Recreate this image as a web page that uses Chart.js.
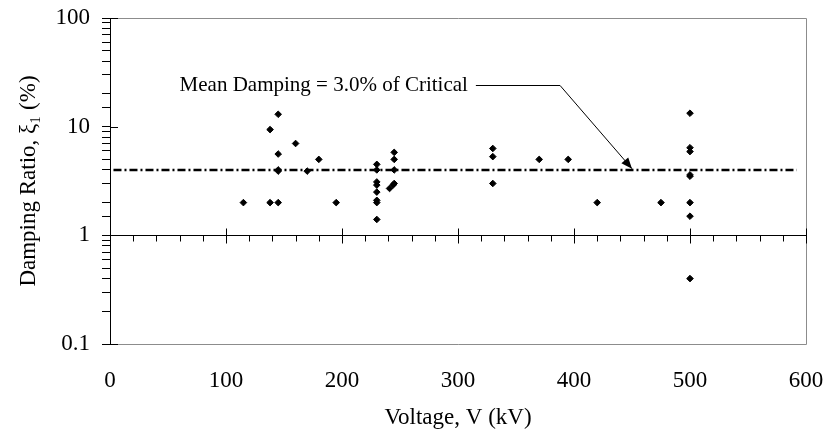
<!DOCTYPE html>
<html><head><meta charset="utf-8">
<script src="https://cdn.jsdelivr.net/npm/chart.js@4.4.0/dist/chart.umd.min.js"></script>
<style>html,body{margin:0;padding:0;background:#fff;} #wrap{width:827px;height:441px;position:relative;}</style>
</head><body><div id="wrap"><canvas id="c"></canvas></div>
<script>
// ---- data ----
const voltageKV = [115, 138, 138, 145, 145, 145, 145, 145, 160, 170, 180, 195,
  230, 230, 230, 230, 230, 230, 230, 230, 245, 245, 245, 245, 241, 244,
  330, 330, 330, 370, 395, 420, 475, 500, 500, 500, 500, 500, 500, 500, 500];
const dampingPct = [2, 9.4, 2, 13, 5.6, 4.0, 3.9, 2, 7, 3.9, 5, 2,
  4.5, 4.0, 3.1, 2.9, 2.5, 2.1, 2.0, 1.4, 5.8, 5.0, 4.0, 3.0, 2.7, 2.9,
  6.3, 5.3, 3.0, 5, 5, 2, 2, 13.3, 6.4, 5.9, 3.6, 3.5, 2.0, 1.5, 0.4];
const meanDampingLevel = 4.0;
const meanLineKV = [3, 592];
const annotationText = 'Mean Damping = 3.0% of Critical';
const annotationTextKV = 60;
const annotationElbow = { x: 388, y: 24 };
const annotationTip = { x: 450, y: 4.1 };
const xTickMajor = [0, 100, 200, 300, 400, 500, 600];
const yTickLabels = { '-1': '0.1', '0': '1', '1': '10', '2': '100' };
const xTitle = 'Voltage, V (kV)';
const yTitle = 'Damping Ratio, \u03BE\u2081 (%)';

const FONT = 'Liberation Serif, Times New Roman, serif';
const FS = 23;
const FS_NOTE = 21;

const pts = voltageKV.map((v, i) => ({ x: v, y: dampingPct[i] }));
const meanPts = meanLineKV.map(v => ({ x: v, y: meanDampingLevel }));

const decor = {
  id: 'decor',
  afterDraw(chart) {
    const { ctx, chartArea: a, scales: { x, y } } = chart;
    ctx.save();
    // plot frame (top, right, bottom)
    ctx.strokeStyle = '#8c8c8c';
    ctx.lineWidth = 1;
    ctx.beginPath();
    ctx.moveTo(a.left + 1, Math.round(a.top) + 0.5);
    ctx.lineTo(Math.round(a.right) + 0.5, Math.round(a.top) + 0.5);
    ctx.lineTo(Math.round(a.right) + 0.5, Math.round(a.bottom) + 0.5);
    ctx.lineTo(a.left + 1, Math.round(a.bottom) + 0.5);
    ctx.stroke();
    // x axis crossing at y = 1
    ctx.strokeStyle = '#000';
    const y1 = Math.round(y.getPixelForValue(1)) + 0.5;
    ctx.beginPath();
    ctx.moveTo(a.left, y1); ctx.lineTo(a.right, y1);
    for (let v = xTickMajor[0]; v <= xTickMajor[xTickMajor.length - 1]; v += 20) {
      const px = Math.round(x.getPixelForValue(v)) + 0.5;
      if (xTickMajor.includes(v)) { ctx.moveTo(px, y1 - 7); ctx.lineTo(px, y1 + 8); }
      else { ctx.moveTo(px, y1); ctx.lineTo(px, y1 + 6); }
    }
    // right half of major y ticks
    for (const k of Object.keys(yTickLabels)) {
      const py = Math.round(y.getPixelForValue(Math.pow(10, +k))) + 0.5;
      ctx.moveTo(a.left, py); ctx.lineTo(a.left + 8, py);
    }
    ctx.stroke();
    // annotation
    ctx.font = FS_NOTE + 'px ' + FONT;
    ctx.fillStyle = '#000';
    ctx.textBaseline = 'middle';
    ctx.textAlign = 'left';
    const tx = x.getPixelForValue(annotationTextKV);
    const ty = y.getPixelForValue(annotationElbow.y);
    ctx.fillText(annotationText, tx, ty);
    const tw = ctx.measureText(annotationText).width;
    const ex = x.getPixelForValue(annotationElbow.x);
    const px = x.getPixelForValue(annotationTip.x), py = y.getPixelForValue(annotationTip.y);
    ctx.lineWidth = 1;
    ctx.beginPath();
    ctx.moveTo(tx + tw + 8, Math.round(ty) + 0.5);
    ctx.lineTo(ex, Math.round(ty) + 0.5);
    ctx.lineTo(px, py);
    ctx.stroke();
    const ang = Math.atan2(py - ty, px - ex);
    const L = 11, W = 4.5;
    ctx.beginPath();
    ctx.moveTo(px, py);
    ctx.lineTo(px - L * Math.cos(ang) + W * Math.sin(ang), py - L * Math.sin(ang) - W * Math.cos(ang));
    ctx.lineTo(px - L * Math.cos(ang) - W * Math.sin(ang), py - L * Math.sin(ang) + W * Math.cos(ang));
    ctx.closePath();
    ctx.fill();
    ctx.restore();
  }
};

new Chart(document.getElementById('c'), {
  type: 'scatter',
  data: {
    datasets: [
      { data: pts, order: 0, pointStyle: 'rectRot', pointRadius: 3.3, pointBorderWidth: 1,
        backgroundColor: '#000', borderColor: '#000', showLine: false },
      { type: 'line', data: meanPts, order: 1, borderColor: '#000', borderWidth: 2.5,
        borderDash: [8, 3, 2, 3], pointRadius: 0, fill: false }
    ]
  },
  options: {
    responsive: true, maintainAspectRatio: false, animation: false, devicePixelRatio: 1,
    layout: { padding: { left: 0, right: 21, top: 18, bottom: 0 } },
    plugins: { legend: { display: false }, tooltip: { enabled: false } },
    scales: {
      x: {
        type: 'linear', min: 0, max: 600,
        afterBuildTicks: s => { s.ticks = xTickMajor.map(v => ({ value: v })); },
        grid: { display: false, drawTicks: false },
        border: { display: false },
        ticks: { padding: 23, color: '#000', font: { family: FONT, size: FS } },
        title: { display: true, text: xTitle, color: '#000', font: { family: FONT, size: FS }, padding: { bottom: 9, top: 0 } },
        afterFit: s => { s.height = 97; s.paddingLeft = 0; s.paddingRight = 0; }
      },
      y: {
        type: 'logarithmic', min: 0.1, max: 100,
        grid: { drawOnChartArea: false, drawTicks: true, tickLength: 8, color: '#000', tickColor: '#000' },
        border: { display: true, color: '#000', width: 1 },
        ticks: {
          padding: 12, color: '#000', autoSkip: false, font: { family: FONT, size: FS },
          callback: v => { const l = Math.log10(v); const r = Math.round(l); return Math.abs(l - r) < 1e-6 ? (yTickLabels[String(r)] || '') : ''; }
        },
        title: { display: true, text: yTitle, color: '#000', font: { family: FONT, size: FS }, padding: { top: 15, bottom: 0 } },
        afterFit: s => { s.width = 110; s.paddingTop = 0; s.paddingBottom = 0; }
      }
    }
  },
  plugins: [decor]
});
</script></body></html>
